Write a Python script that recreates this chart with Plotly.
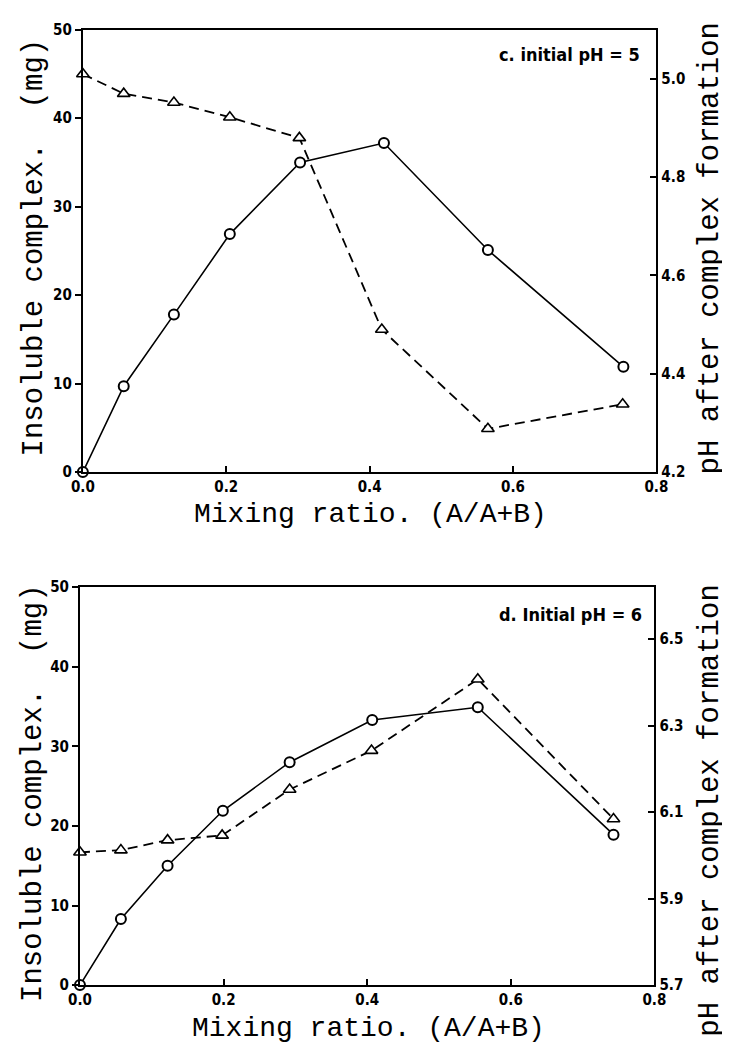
import plotly.graph_objects as go

# ---- data (panel c: initial pH = 5) ----
c_ratio_complex = [0.0, 0.057, 0.127, 0.205, 0.303, 0.420, 0.565, 0.754]
c_complex_mg = [0.0, 9.7, 17.8, 26.9, 35.0, 37.2, 25.1, 11.9]
c_ratio_ph = [0.0, 0.057, 0.127, 0.205, 0.302, 0.417, 0.565, 0.753]
c_ph = [5.01, 4.97, 4.952, 4.922, 4.88, 4.49, 4.288, 4.338]

# ---- data (panel d: initial pH = 6) ----
d_ratio_complex = [0.0, 0.057, 0.122, 0.199, 0.292, 0.407, 0.554, 0.743]
d_complex_mg = [0.0, 8.3, 15.0, 21.9, 28.0, 33.3, 34.9, 18.9]
d_ratio_ph = [0.0, 0.057, 0.122, 0.198, 0.292, 0.406, 0.554, 0.743]
d_ph = [6.007, 6.012, 6.035, 6.046, 6.152, 6.242, 6.407, 6.084]

x_ticks = [0.0, 0.2, 0.4, 0.6, 0.8]
left_ticks = [0, 10, 20, 30, 40, 50]
c_right_ticks = [4.2, 4.4, 4.6, 4.8, 5.0]
d_right_ticks = [5.7, 5.9, 6.1, 6.3, 6.5]

x_title = "Mixing ratio. (A/A+B)"
left_title = "Insoluble complex.  (mg)"
right_title = "pH after complex formation"
c_label = "c. initial pH = 5"
d_label = "d. Initial pH = 6"

TITLE_FONT = dict(family="Liberation Mono, DejaVu Sans Mono, monospace", size=29, color="black")
XTITLE_FONT = dict(family="Liberation Mono, DejaVu Sans Mono, monospace", size=28, color="black")
TICK_FONT = dict(family="DejaVu Sans Condensed, DejaVu Sans, sans-serif", size=15, color="black", weight="bold")

fig = go.Figure()

def add_panel(xr1, y1, xr2, y2, xa, ya, ya2):
    fig.add_trace(go.Scatter(
        x=xr1, y=y1, xaxis=xa, yaxis=ya, mode="lines+markers",
        line=dict(color="black", width=1.6),
        marker=dict(symbol="circle", size=10, color="white", line=dict(color="black", width=2)),
        showlegend=False, cliponaxis=False))
    fig.add_trace(go.Scatter(
        x=xr2, y=y2, xaxis=xa, yaxis=ya2, mode="lines+markers",
        line=dict(color="black", width=1.8, dash="10px,6px"),
        marker=dict(symbol="triangle-up", size=11, color="white", line=dict(color="black", width=1.6)),
        showlegend=False, cliponaxis=False))

add_panel(c_ratio_complex, c_complex_mg, c_ratio_ph, c_ph, "x", "y", "y2")
add_panel(d_ratio_complex, d_complex_mg, d_ratio_ph, d_ph, "x2", "y3", "y4")

W, H = 730, 1050
def px_x(p):
    return p / W
def px_y(p):
    return 1 - p / H

xcommon = dict(range=[0, 0.8], tickvals=x_ticks, tickformat=".1f", ticks="inside", ticklen=6,
               tickwidth=1.5, tickcolor="black", showline=True, linecolor="black", linewidth=2,
               mirror=True, showgrid=False, zeroline=False, tickfont=TICK_FONT)
ycommon = dict(ticks="outside", ticklen=6, tickwidth=1.5, tickcolor="black", showline=True,
               linecolor="black", linewidth=2, showgrid=False, zeroline=False, tickfont=TICK_FONT)

top_dom_x = [px_x(65), px_x(658)]
top_dom_y = [px_y(463), px_y(13)]
bot_dom_x = [px_x(62), px_x(656)]
bot_dom_y = [px_y(985), px_y(580)]

fig.update_layout(
    width=W, height=H, margin=dict(l=0, r=0, t=0, b=0),
    paper_bgcolor="white", plot_bgcolor="white",
    xaxis=dict(domain=top_dom_x, anchor="y", **xcommon),
    yaxis=dict(domain=top_dom_y, anchor="x", range=[0, 50], tickvals=left_ticks, **ycommon),
    yaxis2=dict(overlaying="y", side="right", anchor="x", range=[4.2, 5.1], tickvals=c_right_ticks,
                tickformat=".1f", **{**ycommon, "ticks": "inside"}),
    xaxis2=dict(domain=bot_dom_x, anchor="y3", **xcommon),
    yaxis3=dict(domain=bot_dom_y, anchor="x2", range=[0, 50], tickvals=left_ticks, **ycommon),
    yaxis4=dict(overlaying="y3", side="right", anchor="x2", range=[5.7, 6.62], tickvals=d_right_ticks,
                tickformat=".1f", **{**ycommon, "ticks": "inside"}),
)

ann = []
# panel labels
ann.append(dict(text=c_label, x=px_x(643), y=px_y(38), xref="paper", yref="paper",
                xanchor="right", yanchor="middle", showarrow=False,
                font=dict(family=TICK_FONT["family"], size=18, color="black", weight="bold")))
ann.append(dict(text=d_label, x=px_x(645), y=px_y(608), xref="paper", yref="paper",
                xanchor="right", yanchor="middle", showarrow=False,
                font=dict(family=TICK_FONT["family"], size=18, color="black", weight="bold")))
# axis titles
for (xc, yc) in [(362, 506), (360, 1029)]:
    ann.append(dict(text=x_title, x=px_x(xc), y=px_y(yc), xref="paper", yref="paper",
                    xanchor="center", yanchor="middle", showarrow=False, font=XTITLE_FONT))
for (xc, yc) in [(16, 234), (14, 790)]:
    ann.append(dict(text=left_title, x=px_x(xc), y=px_y(yc), xref="paper", yref="paper",
                    xanchor="center", yanchor="middle", showarrow=False, textangle=-90, font=TITLE_FONT))
for (xc, yc) in [(714, 236), (714, 808)]:
    ann.append(dict(text=right_title, x=px_x(xc), y=px_y(yc), xref="paper", yref="paper",
                    xanchor="center", yanchor="middle", showarrow=False, textangle=-90, font=TITLE_FONT))
fig.update_layout(annotations=ann)

fig.write_html("out.html")
